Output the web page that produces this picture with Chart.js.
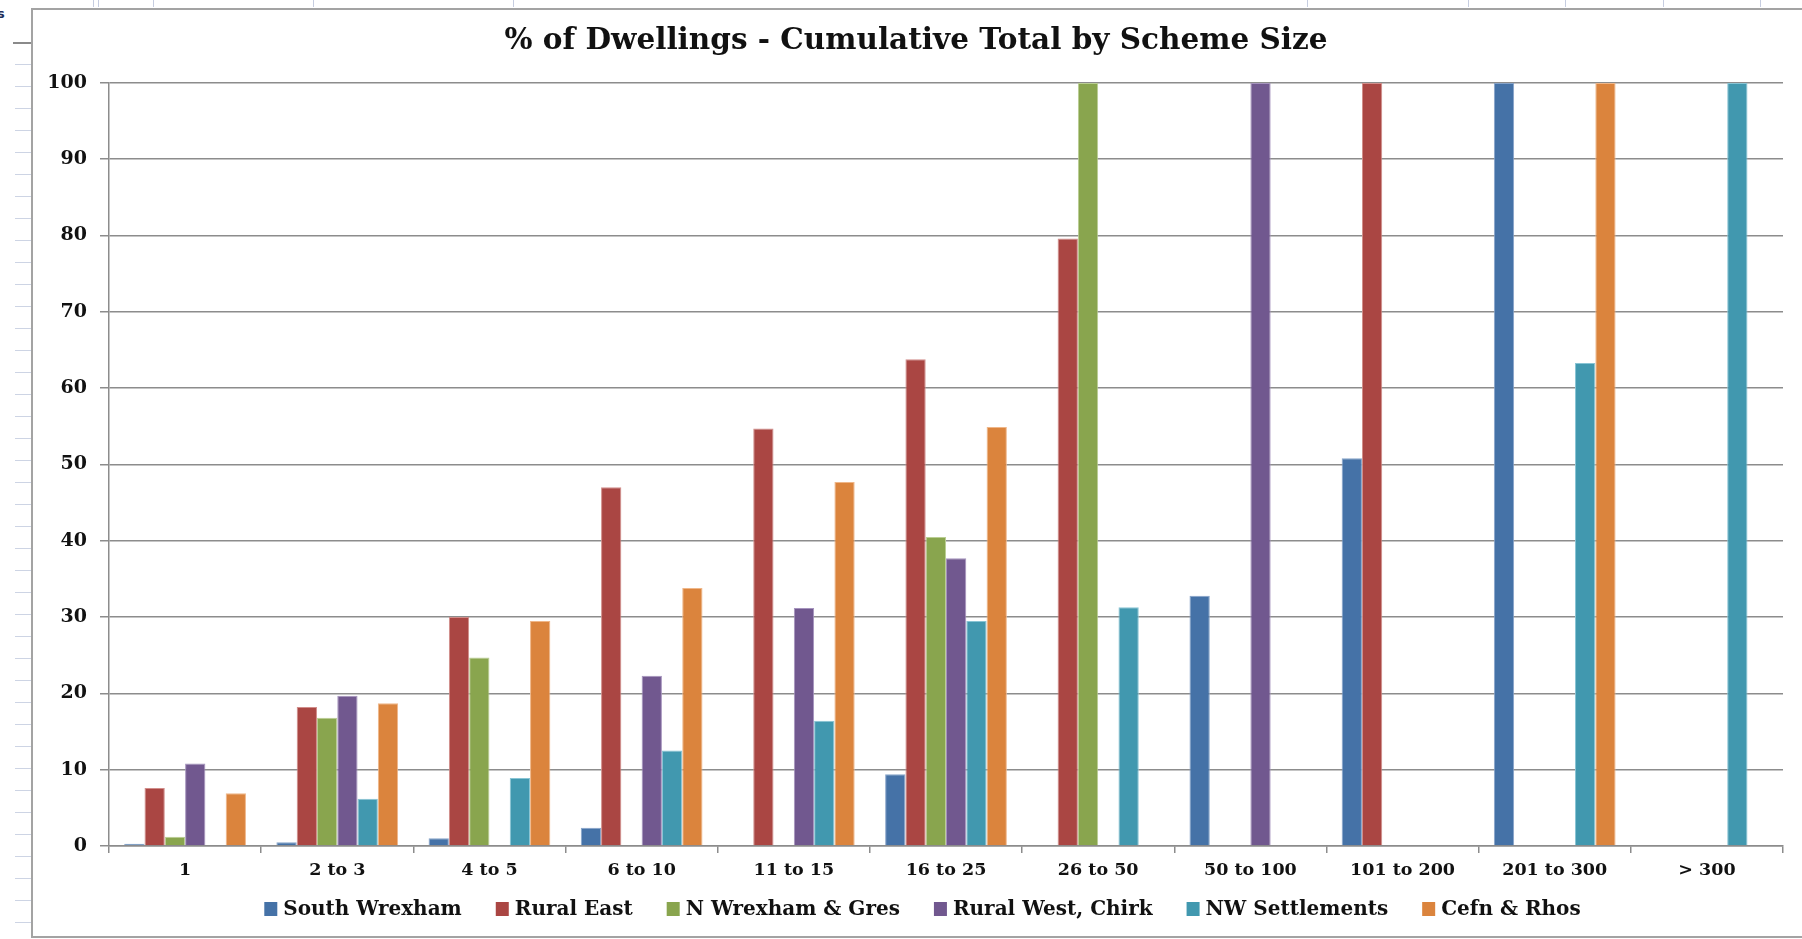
<!DOCTYPE html>
<html>
<head>
<meta charset="utf-8">
<title>% of Dwellings - Cumulative Total by Scheme Size</title>
<script src="https://cdn.jsdelivr.net/npm/chart.js@4/dist/chart.umd.min.js"></script>
<style>
    html, body { margin: 0; padding: 0; background: #fff; overflow: hidden; }
    body { position: relative; width: 1802px; height: 939px; }
    .rows div { position: absolute; left: 15px; width: 17px; height: 1px; background: #cdd4e4; }
    .rows .head { height: 2px; left: 13px; width: 19px; background: #8a8a8a; }
    .cols div { position: absolute; top: 0; width: 1px; height: 7px; background: #c6cde0; }
    .corner { position: absolute; left: -3px; top: 6px; font: bold 13px "DejaVu Sans"; color: #1f2f5a; }
    .frame { position: absolute; left: 31px; top: 8px; width: 1800px; height: 926px; border: 2px solid #a3a3a3; background: #fff; }
    .frame canvas { position: absolute; left: 0; top: 0; }
</style>
</head>
<body>
<div class="corner">s</div>
<div class="rows"></div>
<div class="cols"></div>
<div class="frame"><canvas class="dwellings" width="1769" height="926"></canvas></div>

<script>
const categories = ["1", "2 to 3", "4 to 5", "6 to 10", "11 to 15", "16 to 25", "26 to 50", "50 to 100", "101 to 200", "201 to 300", "> 300"]

// cumulative % per area, null where the area has no schemes in that band
const southWrexham   = [0.3, 0.5, 1.0, 2.4, null, 9.4, null, 32.8, 50.8, 100, null]
const ruralEast      = [7.6, 18.2, 30.0, 47.0, 54.7, 63.8, 79.6, null, 100, null, null]
const nWrexhamGres   = [1.2, 16.8, 24.7, null, null, 40.5, 100, null, null, null, null]
const ruralWestChirk = [10.8, 19.7, null, 22.3, 31.2, 37.7, null, 100, null, null, null]
const nwSettlements  = [null, 6.2, 8.9, 12.5, 16.4, 29.5, 31.3, null, null, 63.3, 100]
const cefnRhos       = [6.9, 18.7, 29.5, 33.8, 47.7, 54.9, null, null, null, 100, null]

const yTicks = [0, 10, 20, 30, 40, 50, 60, 70, 80, 90, 100]

const seriesNames = ["South Wrexham", "Rural East", "N Wrexham & Gres", "Rural West, Chirk", "NW Settlements", "Cefn & Rhos"]
const seriesData = [southWrexham, ruralEast, nWrexhamGres, ruralWestChirk, nwSettlements, cefnRhos]
const fills = ["#4572A7", "#AA4643", "#89A54E", "#71588F", "#4198AF", "#DB843D"]
const edges = ["#86a3c9", "#d18d8a", "#bace93", "#a593bd", "#88c4d4", "#efb688"]

const serif = "'DejaVu Serif', 'Liberation Serif', serif"

/* spreadsheet bits peeking out round the chart */
const rows = document.querySelector(".rows")
for (let y = 42; y < 939; y += 22) {
    const line = document.createElement("div")
    line.style.top = y + "px"
    if (y === 42) line.className = "head"
    rows.appendChild(line)
}
const cols = document.querySelector(".cols")
;[93, 98, 153, 313, 513, 1307, 1468, 1565, 1663, 1760].forEach(x => {
    const tick = document.createElement("div")
    tick.style.left = x + "px"
    cols.appendChild(tick)
})

// legend drawn under the axis labels, tight box/text spacing
const bottomLegend = {
    id: "bottomLegend",
    afterDraw(chart) {
        const ctx = chart.ctx
        const box = 14, textGap = 5, itemGap = 34
        ctx.save()
        ctx.font = "bold 20px " + serif
        ctx.textBaseline = "middle"
        const sets = chart.data.datasets
        const widths = sets.map(ds => box + textGap + ctx.measureText(ds.label).width)
        const total = widths.reduce((a, b) => a + b, 0) + itemGap * (sets.length - 1)
        let x = chart.width / 2 + 5 - total / 2
        const y = chart.chartArea.bottom + 63
        sets.forEach((ds, i) => {
            ctx.fillStyle = ds.backgroundColor
            ctx.fillRect(x, y - box / 2, box - 1, box)
            ctx.fillStyle = "#111"
            ctx.fillText(ds.label, x + box + textGap, y + 1)
            x += widths[i] + itemGap
        })
        ctx.restore()
    }
}

const gridGrey = "#8c8c8c"

const bar = {
    type: "bar",
    data: {
        labels: categories,
        datasets: seriesNames.map((name, i) => ({
            label: name,
            data: seriesData[i],
            backgroundColor: fills[i],
            borderColor: edges[i],
            borderWidth: 1,
            categoryPercentage: 0.8,
            barPercentage: 1.0
        }))
    },
    options: {
        responsive: false,
        animation: false,
        events: [],
        layout: { padding: { left: 16, right: 19, top: 0, bottom: 50 } },
        plugins: {
            legend: { display: false },
            tooltip: { enabled: false },
            title: {
                display: true,
                text: "% of Dwellings - Cumulative Total by Scheme Size",
                color: "#111",
                font: { family: serif, size: 29.5, weight: "bold" },
                padding: { top: 14, bottom: 23.5 }
            }
        },
        scales: {
            x: {
                grid: { drawOnChartArea: false, drawTicks: true, tickLength: 7, color: gridGrey, lineWidth: 1.5 },
                border: { display: true, color: gridGrey, width: 1.5 },
                ticks: { color: "#111", padding: 7, maxRotation: 0, autoSkip: false, font: { family: serif, size: 17.5, weight: "bold" } },
                afterFit: axis => { axis.height = 40 }
            },
            y: {
                min: 0,
                max: 100,
                afterBuildTicks: axis => { axis.ticks = yTicks.map(v => ({ value: v })) },
                grid: { color: gridGrey, lineWidth: 1.5, drawTicks: true, tickLength: 9 },
                border: { display: true, color: gridGrey, width: 1.5 },
                ticks: { color: "#111", padding: 13, font: { family: serif, size: 19, weight: "bold" } },
                afterFit: axis => { axis.width = 60 }
            }
        }
    },
    plugins: [bottomLegend]
}

const dwellingsChart = new Chart(document.querySelector(".dwellings"), bar)
</script>
</body>
</html>
